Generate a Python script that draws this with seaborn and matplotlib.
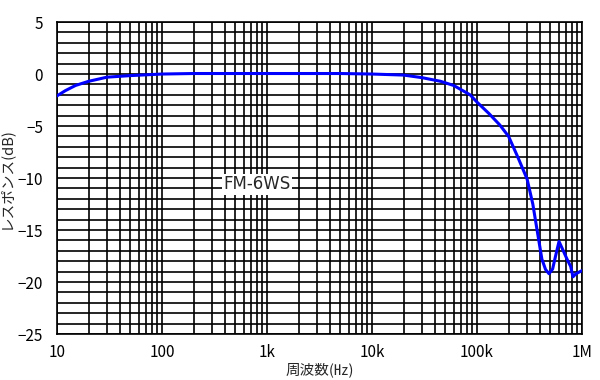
import matplotlib
matplotlib.use("Agg")
import matplotlib.pyplot as plt
import seaborn as sns
import pandas as pd
from matplotlib.ticker import FixedLocator, MultipleLocator, NullFormatter, LogLocator

freq_hz = [10, 12, 15, 20, 30, 50, 100, 200, 500, 1000, 5000, 10000, 20000, 30000,
           45000, 60000, 86000, 100000, 130000, 165000, 200000, 245000, 300000,
           340000, 372000, 415000, 450000, 485000, 525000, 560000, 604000, 650000,
           720000, 780000, 820000, 877000, 1000000]
response_db = [-2.1, -1.6, -1.1, -0.7, -0.3, -0.15, 0.0, 0.05, 0.05, 0.05, 0.05, 0.0,
               -0.1, -0.35, -0.7, -1.1, -2.0, -2.7, -3.8, -4.9, -6.0, -8.0, -10.1,
               -12.5, -14.9, -17.8, -18.8, -19.2, -18.75, -17.5, -16.1, -16.8, -17.8,
               -18.5, -19.5, -19.2, -18.9]
x_ticks = [10, 100, 1000, 10000, 100000, 1000000]
x_tick_labels = ["10", "100", "1k", "10k", "100k", "1M"]
y_ticks = [5, 0, -5, -10, -15, -20, -25]
label_text = "FM-6WS"

sns.set_style("white")
plt.rcParams['font.family'] = ['Noto Sans CJK JP', 'DejaVu Sans']
plt.rcParams['axes.unicode_minus'] = True

df = pd.DataFrame({"freq": freq_hz, "resp": response_db})

fig = plt.figure(figsize=(6, 3.8), dpi=100)
ax = fig.add_axes([0.095, 0.121, 0.875, 0.821])
sns.lineplot(data=df, x="freq", y="resp", ax=ax, color="#0000FF", linewidth=2.2, zorder=5)

ax.set_xscale("log")
ax.set_xlim(10, 1e6)
ax.set_ylim(-25, 5)
ax.xaxis.set_major_locator(FixedLocator(x_ticks))
ax.set_xticklabels(x_tick_labels)
ax.xaxis.set_minor_locator(LogLocator(base=10, subs=range(2, 10)))
ax.xaxis.set_minor_formatter(NullFormatter())
ax.yaxis.set_major_locator(FixedLocator(y_ticks))
ax.set_yticklabels([str(v).replace("-", "\u2212") for v in y_ticks])
ax.yaxis.set_minor_locator(MultipleLocator(1))
ax.grid(which="both", axis="both", color="black", linewidth=1.2)
ax.tick_params(which="both", length=0, labelsize=11, colors="black")
ax.tick_params(axis="x", pad=7)
ax.tick_params(axis="y", pad=10)
for s in ax.spines.values():
    s.set_color("black")
    s.set_linewidth(1.2)

ax.set_xlabel("周波数(㎐)", fontsize=10.5, labelpad=1)
ax.set_ylabel("レスポンス(dB)", fontsize=10.5, labelpad=3)

ax.text(800, -10.6, label_text, fontsize=12, ha="center", va="center",
        family=['DejaVu Sans'], zorder=6,
        bbox=dict(facecolor="white", edgecolor="none", pad=1))

fig.savefig("out.png", dpi=100)
